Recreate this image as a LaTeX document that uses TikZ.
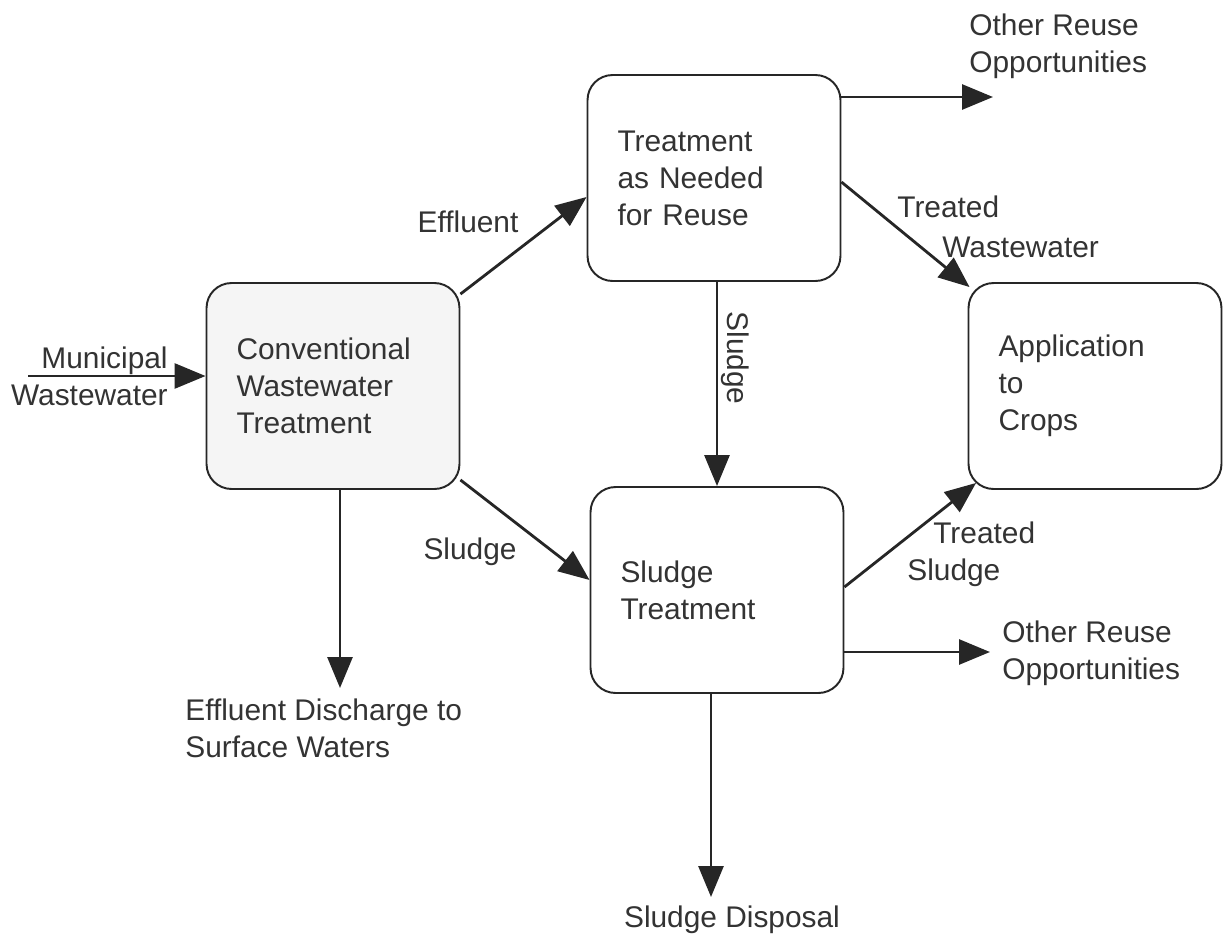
\documentclass[tikz,border=0pt]{standalone}
\usepackage{fontspec}
\setmainfont{Liberation Sans}
\usepackage{tikz}
\usetikzlibrary{arrows.meta}

\begin{document}
\begin{tikzpicture}[x=0.02cm,y=-0.02cm,
        stage/.style={draw=black!85, line width=1.1pt, rounded corners=0.5cm, fill=white,
            minimum width=5.06cm, minimum height=4.12cm, inner xsep=0.6cm,
            text width=3.86cm, align=left, text=black!80,
            font=\fontsize{17}{21}\selectfont},
        flow/.style={draw=black!85, line width=1.6pt,
            -{Triangle[length=0.62cm,width=0.5cm]}},
        lbl/.style={inner sep=0pt, text=black!80, font=\fontsize{17}{21}\selectfont}]
            \useasboundingbox (0,0) rectangle (1225,937);

            % boxes
            \node[stage, fill=gray!8] (conv) at (333,386) {Conventional\\Wastewater\\Treatment};
            \node[stage] (reuse) at (714,178) {Treatment\\as Needed\\for Reuse};
            \node[stage] (sludge) at (717,590) {Sludge\\Treatment};
            \node[stage] (crops) at (1095,386) {Application\\to\\Crops};

            % free ends
            \coordinate (mwin) at (28,376);
            \coordinate (edis) at (340,688);
            \coordinate (othera) at (993,97);
            \coordinate (otherb) at (990,652);
            \coordinate (disp) at (711,897);

            \draw[flow] (mwin) -- (conv.west |- mwin);
            \draw[flow] ([yshift=-0.24cm]conv.north east) -- ([yshift=-0.38cm]reuse.west);
            \draw[flow] ([yshift=0.2cm]conv.south east) -- ([yshift=0.2cm]sludge.west);
            \draw[flow] (conv.south -| edis) -- (edis);
            \draw[flow] (reuse.south -| sludge.north) -- (sludge.north);
            \draw[flow] (reuse.east |- othera) -- (othera);
            \draw[flow] ([yshift=-0.08cm]reuse.east) -- ([shift={(0.04cm,-0.1cm)}]crops.north west);
            \draw[flow] ([yshift=0.06cm]sludge.east) -- ([shift={(0.17cm,0.14cm)}]crops.south west);
            \draw[flow] (sludge.east |- otherb) -- (otherb);
            \draw[flow] (sludge.south -| disp) -- (disp);

            % labels
            \node[lbl, align=right, anchor=east] (mwlbl) at (168,376) {Municipal\\Wastewater};
            \node[lbl] (efflbl) at (468,222) {Effluent};
            \node[lbl] (sllbl) at (470,552) {Sludge};
            \node[lbl, align=left, anchor=west] (edislbl) at (185,728) {Effluent Discharge to\\Surface Waters};
            \node[lbl, rotate=-90] (sl2lbl) at (735,358) {Sludge};
            \node[lbl, align=left, anchor=west] (otheralbl) at (969,46) {Other Reuse\\Opportunities};
            \node[lbl, align=left, anchor=west] (twlbl) at (897,227) {Treated\\[0.06cm]\hspace*{0.9cm}Wastewater};
            \node[lbl, align=left, anchor=west] (tslbl) at (907,554) {\hspace*{0.52cm}Treated\\Sludge};
            \node[lbl, align=left, anchor=west] (otherblbl) at (1002,653) {Other Reuse\\Opportunities};
            \node[lbl] (displbl) at (732,920) {Sludge Disposal};
        \end{tikzpicture}
\end{document}
